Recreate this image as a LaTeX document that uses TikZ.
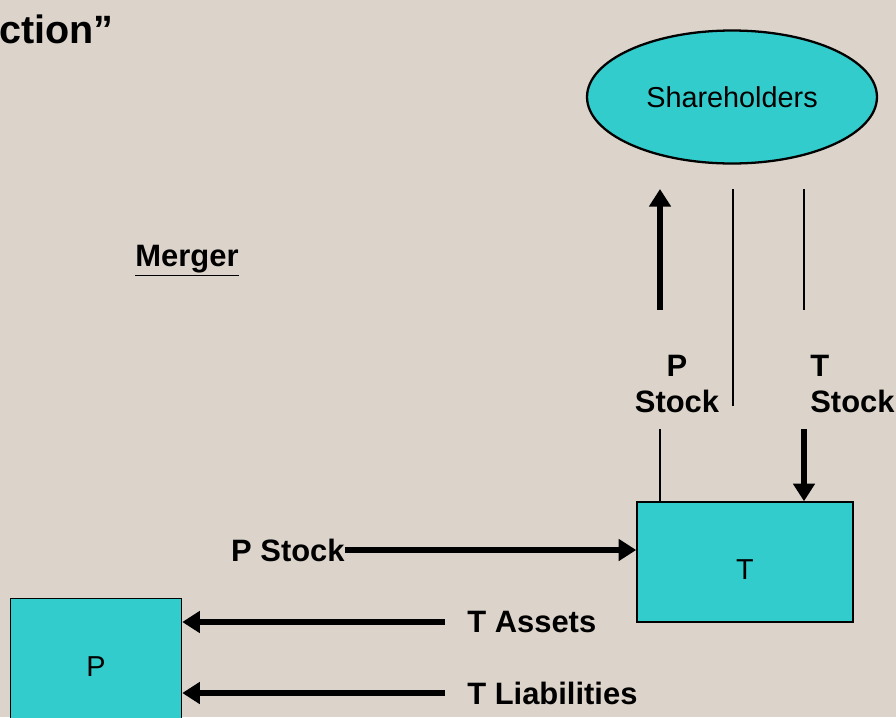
\documentclass[tikz,border=0pt]{standalone}
\usepackage{fontspec}
\setmainfont{Liberation Sans}
\usetikzlibrary{shapes.geometric,arrows.meta}
\definecolor{slidebg}{RGB}{220,212,203}
\definecolor{boxcyan}{RGB}{51,204,204}

\begin{document}
\begin{tikzpicture}[x=0.02cm,y=-0.02cm,
    party/.style={draw=black,line width=0.9pt,fill=boxcyan,font=\fontsize{16.4}{19}\selectfont},
    lbl/.style={font=\bfseries\fontsize{17.6}{21}\selectfont,inner sep=0pt},
    flowarrow/.style={line width=3pt,-{Triangle[length=10pt,width=12pt]}},
    flowline/.style={line width=1.3pt}]
      \clip (0,0) rectangle (896,717);
      \fill[slidebg] (0,0) rectangle (896,717);

      \node[anchor=base east,inner sep=0pt,font=\bfseries\fontsize{22.5}{26}\selectfont] (title) at (114,43) {ction”};
      \node[lbl,anchor=base] (merger) at (187,266) {\underline{Merger}};

      \node[party,ellipse,minimum width=5.8cm,minimum height=2.66cm,line width=1.3pt] (sh) at (732,97) {Shareholders};
      \node[party,minimum width=4.32cm,minimum height=2.4cm,text height=0.7cm] (tbox) at (745,562) {T};
      \node[party,minimum width=3.42cm,minimum height=2.74cm] (pbox) at (96,667) {P};

      \node[lbl,anchor=east] (pstk) at (345,550) {P Stock};
      \node[lbl,anchor=west] (tass) at (467,622) {T Assets};
      \node[lbl,anchor=west] (tliab) at (467,693) {T Liabilities};
      \node[lbl,align=center] (pup) at (677,384) {P\\Stock};
      \node[lbl,align=left,anchor=west] (tdown) at (810,384) {T\\Stock};

      \coordinate (a1) at (660,310);
      \coordinate (a1t) at (660,189);
      \coordinate (m1) at (733,189);
      \coordinate (m1b) at (733,406);
      \coordinate (r1) at (804,189);
      \coordinate (r1b) at (804,310);
      \coordinate (l2) at (660,429);
      \coordinate (r2) at (804,429);

      \draw[flowarrow] (pstk.east) -- (pstk.east -| tbox.west);
      \draw[flowarrow] ([xshift=-0.44cm]tass.west) -- (tass.west -| pbox.east);
      \draw[flowarrow] ([xshift=-0.44cm]tliab.west) -- (tliab.west -| pbox.east);
      \draw[flowarrow] (a1) -- (a1t);
      \draw[flowline] (m1) -- (m1b);
      \draw[flowline] (r1) -- (r1b);
      \draw[flowline] (l2) -- (l2 |- tbox.north);
      \draw[flowarrow] (r2) -- (r2 |- tbox.north);

      % \draw[flowline] (sh.south) -- (tbox.north);
   \end{tikzpicture}
\end{document}
